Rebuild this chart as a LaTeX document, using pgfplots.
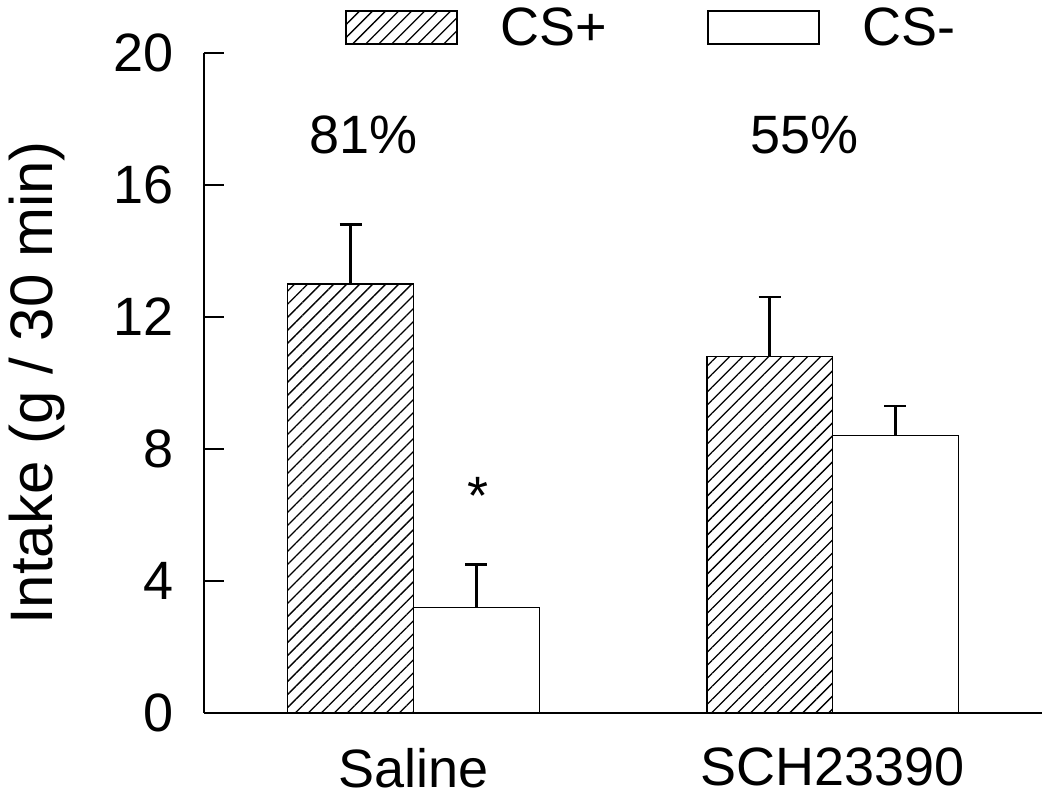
\documentclass[border=0pt]{standalone}
\usepackage{fontspec}
\setmainfont{Liberation Sans}
\usepackage{pgfplots}
\usepackage{pgfplotstable}
\pgfplotsset{compat=1.18}
\usetikzlibrary{patterns.meta}

\pgfplotstableread{
x y e
0 13.0 1.8
1 10.8 1.8
}\csplus
\pgfplotstableread{
x y e
0 3.2 1.3
1 8.4 0.9
}\csminus

\newcommand{\bigf}{\fontsize{54bp}{60bp}\selectfont}

\begin{document}
\begin{tikzpicture}[x=1bp,y=1bp]
\useasboundingbox (-204,-87) rectangle (846,713);
\begin{axis}[
  at={(0,0)}, anchor=south west,
  width=838bp, height=660bp, scale only axis,
  xmin=-0.5, xmax=1.5, ymin=0, ymax=20,
  axis x line*=bottom, axis y line*=left,
  axis line style={line width=2.6bp, black},
  ytick={0,4,8,12,16,20},
  xtick={0,1}, xticklabels={Saline,SCH23390},
  x tick style={draw=none},
  y tick style={line width=2.2bp, black},
  major tick length=20bp, tick align=inside,
  /pgf/number format/assume math mode=true,
  tick label style={font=\bigf},
  yticklabel style={inner sep=0pt, anchor=east, xshift=-30bp},
  xticklabel style={inner sep=0pt, anchor=north, yshift=-15bp},
  ylabel={Intake (g / 30 min)},
  every axis y label/.style={at={(axis description cs:-0.1993,0.5)}, rotate=90, anchor=center, font=\fontsize{60bp}{66bp}\selectfont},
  ybar, bar width=0.3,
  legend columns=2,
  legend style={at={(axis description cs:0.1683,1.0386)}, anchor=west, draw=none, fill=none, inner sep=0pt, font=\bigf,
    nodes={inner sep=0pt},
    /tikz/every odd column/.append style={column sep=43bp},
    /tikz/every even column/.append style={column sep=100bp}},
  legend image code/.code={\draw[#1] (0bp,-16.5bp) rectangle (111bp,16.5bp);},
]
\addplot[bar shift=-0.15, draw=black, line width=1.4bp,
  pattern={Lines[angle=45,distance=9.2bp,line width=1.3bp]}, pattern color=black,
  error bars/.cd, y dir=plus, y explicit,
  error bar style={line width=2.4bp, black},
  error mark options={rotate=90, line width=2.4bp, mark size=11bp, black}]
  table[x=x, y=y, y error=e] {\csplus};
\addlegendentry{CS+}
\addplot[bar shift=0.15, draw=black, fill=white, line width=1.4bp,
  error bars/.cd, y dir=plus, y explicit,
  error bar style={line width=2.4bp, black},
  error mark options={rotate=90, line width=2.4bp, mark size=11bp, black}]
  table[x=x, y=y, y error=e] {\csminus};
\addlegendentry{CS-}
\node[anchor=north, inner sep=0pt, font=\bigf] at (axis cs:-0.12,18.1) {81\%};
\node[anchor=north, inner sep=0pt, font=\bigf] at (axis cs:0.933,18.1) {55\%};
\node[anchor=north, inner sep=0pt, font=\bigf] at (axis cs:0.153,7.15) {*};
\end{axis}
\end{tikzpicture}
\end{document}
